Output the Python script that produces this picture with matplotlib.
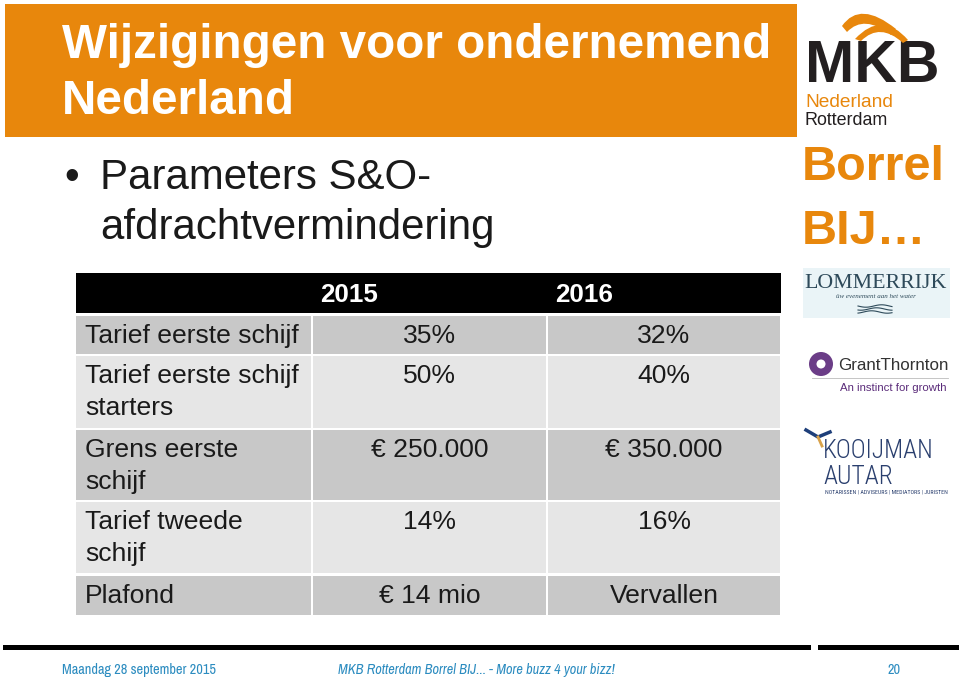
import matplotlib
matplotlib.use("Agg")
import matplotlib.pyplot as plt
from matplotlib import font_manager as fm
from matplotlib.patches import Rectangle, Circle, PathPatch
from matplotlib.path import Path
import numpy as np

# slide content
title_lines = ["Wijzigingen voor ondernemend", "Nederland"]
bullet_lines = ["Parameters S&O-", "afdrachtvermindering"]

years = ["2015", "2016"]
row_labels = [
    ["Tarief eerste schijf"],
    ["Tarief eerste schijf", "starters"],
    ["Grens eerste", "schijf"],
    ["Tarief tweede", "schijf"],
    ["Plafond"],
]
values_2015 = ["35%", "50%", "€ 250.000", "14%", "€ 14 mio"]
values_2016 = ["32%", "40%", "€ 350.000", "16%", "Vervallen"]

footer_date = "Maandag 28 september 2015"
footer_mid = "MKB Rotterdam Borrel BIJ... - More buzz 4 your bizz!"
footer_page = "20"

ORANGE = "#E8870C"
DARK = "#1a1a1a"
ROW_DARK = "#C8C8C8"
ROW_LIGHT = "#E6E6E6"
BLUE = "#2C8CC0"
SANS = ["Liberation Sans", "DejaVu Sans"]


def first_font(names):
    for n in names:
        try:
            fm.findfont(n, fallback_to_default=False)
            return n
        except Exception:
            pass
    return "Liberation Sans"


NARROW = [first_font(["Arial Narrow", "Liberation Sans Narrow", "Archivo Narrow",
                      "PT Sans Narrow", "Roboto Condensed", "Pragati Narrow"]),
          "DejaVu Sans"]
THIN = [first_font(["Roboto Condensed", "Archivo Narrow", "Liberation Sans"]), "DejaVu Sans"]

W, H = 959, 682
fig = plt.figure(figsize=(W / 100, H / 100), dpi=100)
ax = fig.add_axes([0, 0, 1, 1])
ax.set_xlim(0, W)
ax.set_ylim(H, 0)
ax.axis("off")
renderer = fig.canvas.get_renderer()


def size_for(s, width, **kw):
    t = ax.text(0, 0, s, fontsize=20, **kw)
    w = t.get_window_extent(renderer).width
    t.remove()
    return 20 * width / w


def band(p0, c0, p1, q1, c1, q0, color):
    verts = [p0, c0, p1, q1, c1, q0, p0]
    codes = [Path.MOVETO, Path.CURVE3, Path.CURVE3, Path.LINETO,
             Path.CURVE3, Path.CURVE3, Path.CLOSEPOLY]
    ax.add_patch(PathPatch(Path(verts, codes), color=color, lw=0, zorder=5))


# title bar
ax.add_patch(Rectangle((5, 4), 792, 133, color=ORANGE, lw=0))
fs = size_for(title_lines[0], 708, family=SANS, fontweight="bold")
for i, line in enumerate(title_lines):
    ax.text(62, 45 + i * 56, line, color="white", fontsize=fs, fontweight="bold",
            family=SANS, va="center", ha="left")

# bullet
fs = size_for(bullet_lines[1], 394, family=SANS)
ax.text(64, 178, "•", color=DARK, fontsize=fs, family=SANS, va="center")
for i, line in enumerate(bullet_lines):
    ax.text(100, 178 + i * 50, line, color=DARK, fontsize=fs, family=SANS, va="center")

# table
col_x = [76, 312, 547, 781]
row_tops = [316, 356, 430, 502, 576]
row_bots = [354, 428, 500, 573, 615]
ax.add_patch(Rectangle((76, 273), 705, 40, color="black", lw=0))
fs = size_for("2015", 58, family=SANS, fontweight="bold")
for j, yr in enumerate(years):
    ax.text(col_x[j + 1] + 8, 295, yr, color="white", fontsize=fs, fontweight="bold",
            family=SANS, va="center")

fs = size_for(row_labels[0][0], 213, family=SANS)
for i in range(len(row_labels)):
    bg = ROW_DARK if i % 2 == 0 else ROW_LIGHT
    for j in range(3):
        x0 = col_x[j] + (1 if j else 0)
        x1 = col_x[j + 1] - 1
        ax.add_patch(Rectangle((x0, row_tops[i]), x1 - x0, row_bots[i] - row_tops[i],
                               color=bg, lw=0))
    ytxt = row_tops[i] + 20
    for k, lab in enumerate(row_labels[i]):
        ax.text(85, ytxt + k * 32, lab, color=DARK, fontsize=fs, family=SANS, va="center")
    ax.text((col_x[1] + col_x[2]) / 2, ytxt, values_2015[i], color=DARK, fontsize=fs,
            family=SANS, va="center", ha="center")
    ax.text((col_x[2] + col_x[3]) / 2, ytxt, values_2016[i], color=DARK, fontsize=fs,
            family=SANS, va="center", ha="center")

# MKB logo
band((842, 26), (860, 0), (896, 29), (891, 35), (864, 14), (847, 32), ORANGE)
band((855, 39), (882, 10), (908, 40), (903, 43), (880, 22), (861, 41), ORANGE)
fs = size_for("MKB", 141, family=SANS, fontweight="bold")
ax.text(805, 82, "MKB", color="#231F20", fontsize=fs * 0.95, fontweight="bold", family=SANS,
        va="baseline", ha="left")
fs = size_for("Nederland", 88, family=SANS)
ax.text(805, 107, "Nederland", color=ORANGE, fontsize=fs, family=SANS, va="baseline")
fs = size_for("Rotterdam", 83, family=SANS)
ax.text(805, 125, "Rotterdam", color="#231F20", fontsize=fs, family=SANS, va="baseline")
fs = size_for("Borrel", 143, family=SANS, fontweight="bold")
ax.text(802, 168, "Borrel", color=ORANGE, fontsize=fs, fontweight="bold", family=SANS,
        va="center")
ax.text(802, 232, "BIJ…", color=ORANGE, fontsize=fs, fontweight="bold", family=SANS,
        va="center")

# Lommerrijk
ax.add_patch(Rectangle((803, 268), 147, 50, color="#EAF4F7", lw=0))
fs = size_for("LOMMERRIJK", 142, family="Liberation Serif")
ax.text(876, 283, "LOMMERRIJK", color="#2E4A5A", fontsize=fs, family="Liberation Serif",
        va="center", ha="center")
ax.text(876, 297, "üw evenement aan het water", color="#2E4A5A", fontsize=5,
        family="Liberation Serif", style="italic", va="center", ha="center")
wx = np.linspace(858, 892, 40)
for k in range(3):
    ax.plot(wx, 306 + k * 3 + 1.2 * np.sin((wx - 858) / 5 + k), color="#2E4A5A", lw=0.8)

# Grant Thornton
ax.add_patch(Circle((821, 364), 12, color="#6B3D87", lw=0))
ax.add_patch(Circle((821, 364), 4.5, color="white", lw=0))
fs = size_for("GrantThornton", 110, family=SANS)
ax.text(838, 365, "GrantThornton", color="#333333", fontsize=fs, family=SANS, va="center")
ax.plot([812, 948], [378, 378], color="#BBBBBB", lw=0.6)
fs = size_for("An instinct for growth", 106, family=SANS)
ax.text(840, 388, "An instinct for growth", color="#5B2C7A", fontsize=fs, family=SANS,
        va="center")

# Kooijman Autar
ax.plot([806, 818, 830], [430, 437, 432], color="#1E3F7A", lw=2.5)
ax.plot([818, 822], [437, 446], color="#D9A24A", lw=2)
fs = size_for("KOOIJMAN", 124, family=THIN, fontweight="light")
ax.text(823, 451, "KOOIJMAN", color="#2A3F6E", fontsize=fs * 0.9, family=THIN,
        fontweight="light", va="center")
ax.text(823, 477, "AUTAR", color="#2A3F6E", fontsize=fs * 0.9, family=THIN,
        fontweight="light", va="center")
fs = size_for("NOTARISSEN | ADVISEURS | MEDIATORS | JURISTEN", 123, family=THIN)
ax.text(825, 492, "NOTARISSEN | ADVISEURS | MEDIATORS | JURISTEN", color="#2A3F6E",
        fontsize=fs, family=THIN, va="center")

# footer
ax.add_patch(Rectangle((3, 645), 808, 5, color="black", lw=0))
ax.add_patch(Rectangle((818, 645), 141, 5, color="black", lw=0))
fs = size_for(footer_mid, 278, family=NARROW, style="italic")
ax.text(62, 670, footer_date, color=BLUE, fontsize=fs, family=NARROW, va="center")
ax.text(338, 670, footer_mid, color=BLUE, fontsize=fs, family=NARROW, style="italic",
        va="center")
ax.text(887, 670, footer_page, color=BLUE, fontsize=fs, family=NARROW, va="center")

fig.savefig("out.png", dpi=100)
